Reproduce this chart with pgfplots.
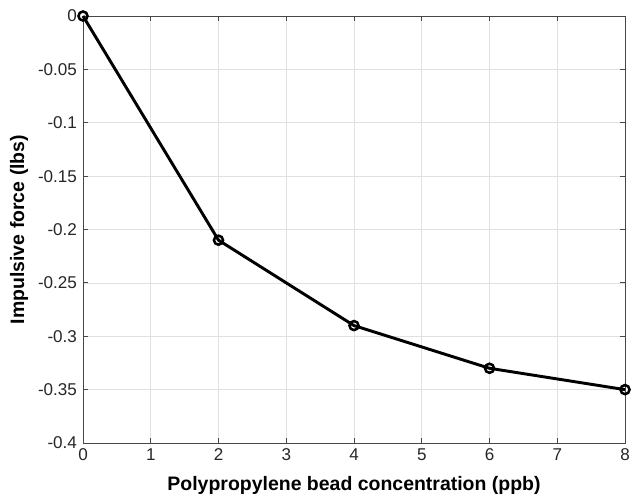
\documentclass[border=0pt]{standalone}
\usepackage{pgfplots}
\pgfplotsset{compat=1.18}
\usepackage{fontspec}
\setmainfont{Liberation Sans}
\definecolor{axgray}{RGB}{38,38,38}
\begin{document}
\begin{tikzpicture}
\begin{axis}[
  name=ax,
  scale only axis,
  width=406.5pt, height=320.25pt,
  xmin=0, xmax=8, ymin=-0.4, ymax=0,
  xtick={0,1,...,8},
  ytick={-0.4,-0.35,-0.3,-0.25,-0.2,-0.15,-0.1,-0.05,0},
  yticklabels={-0.4,-0.35,-0.3,-0.25,-0.2,-0.15,-0.1,-0.05,0},
  xticklabels={0,1,2,3,4,5,6,7,8},
  tick align=inside,
  tick pos=both,
  major tick length=4pt,
  grid=major,
  grid style={color=black!12, line width=0.5pt},
  axis line style={color=axgray!85, line width=0.6pt},
  tick style={color=axgray!85, line width=0.6pt},
  ticklabel style={font=\fontsize{12.8}{14}\selectfont, color=axgray},
  xticklabel style={yshift=-1pt},
  yticklabel style={xshift=-1pt},
  xlabel={\textbf{Polypropylene bead concentration (ppb)}},
  ylabel={\textbf{Impulsive force (lbs)}},
  label style={font=\fontsize{14.6}{16}\selectfont},
  xlabel style={at={(axis description cs:0.5,-0.1)}, anchor=center},
  ylabel style={at={(axis description cs:-0.118,0.5)}, anchor=center},
  clip=false,
]
\addplot[black, line width=2.2pt, mark=o, mark size=3.4pt, mark options={line width=1.9pt, fill=white}]
  coordinates {(0,0) (2,-0.21) (4,-0.29) (6,-0.33) (8,-0.35)};
\end{axis}
\pgfresetboundingbox
\path (ax.south west) ++(-62.25pt,-42pt) coordinate (bl);
\path (ax.north east) ++(8.25pt,12pt) coordinate (tr);
\useasboundingbox (bl) rectangle (tr);
\end{tikzpicture}
\end{document}
